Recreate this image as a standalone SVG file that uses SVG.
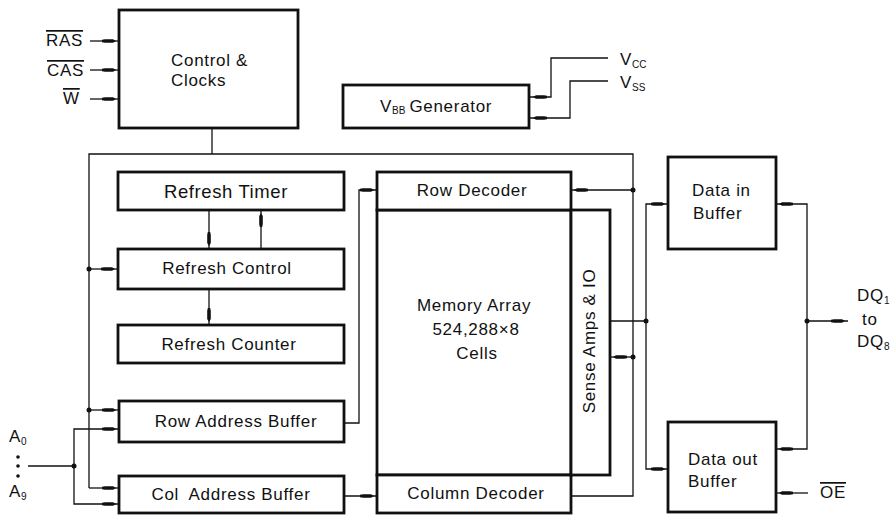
<svg xmlns="http://www.w3.org/2000/svg" width="891" height="515" viewBox="0 0 891 515">
<defs>
<style>
.box{fill:#fff;stroke:#111;stroke-width:2.8}
.ln{fill:none;stroke:#111;stroke-width:1.3}
.dot{fill:#111}
text{font-family:"Liberation Sans",Arial,sans-serif;font-size:17px;fill:#111;letter-spacing:0.7px}
.c{text-anchor:middle}
.sub{font-size:10px;letter-spacing:0}
.ov{text-decoration:overline}
</style>
<marker id="ar" viewBox="0 -3 18 6" refX="17" refY="0" markerWidth="18" markerHeight="6" markerUnits="userSpaceOnUse" orient="auto">
<path d="M0,-1.2 L3,-1.8 L11,-1.8 L14,0 L11,1.8 L3,1.8 L0,1.2 z" fill="#111"/>
</marker>
</defs>
<rect width="891" height="515" fill="#fff"/>

<g id="connectors">
<path class="ln" d="M90,41 H119" marker-end="url(#ar)"/>
<path class="ln" d="M90,70 H119" marker-end="url(#ar)"/>
<path class="ln" d="M90,99 H119" marker-end="url(#ar)"/>
<path class="ln" d="M212,128 V154"/>
<path class="ln" d="M608,58 H551 V97 H530" marker-end="url(#ar)"/>
<path class="ln" d="M608,81 H570 V118 H530" marker-end="url(#ar)"/>
<path class="ln" d="M89,488 V154 H633 V496 H571"/>
<path class="ln" d="M89,488 H119" marker-end="url(#ar)"/>
<path class="ln" d="M89,269 H118" marker-end="url(#ar)"/>
<path class="ln" d="M89,410 H119" marker-end="url(#ar)"/>
<path class="ln" d="M209,210 V249" marker-end="url(#ar)"/>
<path class="ln" d="M261,249 V210" marker-end="url(#ar)"/>
<path class="ln" d="M209,289 V325" marker-end="url(#ar)"/>
<path class="ln" d="M28,466 H74"/>
<path class="ln" d="M74,466 V429 H119" marker-end="url(#ar)"/>
<path class="ln" d="M74,466 V504 H119" marker-end="url(#ar)"/>
<path class="ln" d="M344,423 H359 V190 H377" marker-end="url(#ar)"/>
<path class="ln" d="M344,496 H377" marker-end="url(#ar)"/>
<path class="ln" d="M633,190 H571" marker-end="url(#ar)"/>
<path class="ln" d="M633,357 H610" marker-end="url(#ar)"/>
<path class="ln" d="M610,321 H646"/>
<path class="ln" d="M646,321 V204 H668" marker-end="url(#ar)"/>
<path class="ln" d="M646,321 V469 H668" marker-end="url(#ar)"/>
<path class="ln" d="M807,321 V204 H776" marker-end="url(#ar)"/>
<path class="ln" d="M807,321 V449 H776" marker-end="url(#ar)"/>
<path class="ln" d="M807,321 H848" marker-end="url(#ar)"/>
<path class="ln" d="M808,493 H776" marker-end="url(#ar)"/>
<circle class="dot" cx="89" cy="269" r="2.5"/>
<circle class="dot" cx="89" cy="410" r="2.5"/>
<circle class="dot" cx="74" cy="466" r="2.5"/>
<circle class="dot" cx="633" cy="190" r="2.5"/>
<circle class="dot" cx="633" cy="357" r="2.5"/>
<circle class="dot" cx="646" cy="321" r="2.5"/>
<circle class="dot" cx="807" cy="321" r="2.5"/>
</g>

<g id="inputs">
<text x="46" y="46" class="ov">RAS</text>
<text x="47" y="76" class="ov">CAS</text>
<text x="63" y="104" class="ov">W</text>
<text x="620" y="65">V<tspan class="sub" dy="3">CC</tspan></text>
<text x="620" y="88">V<tspan class="sub" dy="3">SS</tspan></text>
<text x="9" y="442">A<tspan class="sub" dy="3">0</tspan></text>
<circle class="dot" cx="18" cy="457" r="1.8"/>
<circle class="dot" cx="18" cy="466" r="1.8"/>
<circle class="dot" cx="18" cy="476" r="1.8"/>
<text x="9" y="497">A<tspan class="sub" dy="3">9</tspan></text>
<text x="857" y="301">DQ<tspan class="sub" dy="3">1</tspan></text>
<text x="862" y="325">to</text>
<text x="857" y="347">DQ<tspan class="sub" dy="3">8</tspan></text>
<text x="820" y="498" class="ov">OE</text>
</g>

<g id="control-clocks">
<rect class="box" x="119" y="10" width="179" height="118"/>
<text x="171" y="66">Control &amp;</text>
<text x="171" y="86">Clocks</text>
</g>

<g id="vbb-generator">
<rect class="box" x="343" y="85" width="186" height="43"/>
<text x="380" y="112">V<tspan class="sub" dy="2">BB</tspan><tspan dy="-2" dx="4">Generator</tspan></text>
</g>

<g id="refresh-timer">
<rect class="box" x="118" y="172" width="226" height="38"/>
<text x="226" y="198" class="c" style="font-size:18.5px;letter-spacing:0.6px">Refresh Timer</text>
</g>

<g id="refresh-control">
<rect class="box" x="118" y="249" width="226" height="40"/>
<text x="227" y="274" class="c">Refresh Control</text>
</g>

<g id="refresh-counter">
<rect class="box" x="118" y="325" width="226" height="38"/>
<text x="229" y="350" class="c">Refresh Counter</text>
</g>

<g id="row-address-buffer">
<rect class="box" x="119" y="401" width="225" height="41"/>
<text x="236" y="427" class="c">Row Address Buffer</text>
</g>

<g id="col-address-buffer">
<rect class="box" x="119" y="476" width="225" height="37"/>
<text x="231" y="500" class="c">Col <tspan dx="5">Address Buffer</tspan></text>
</g>

<g id="memory-array">
<rect class="box" x="377" y="210" width="194" height="265"/>
<text x="474" y="311" class="c">Memory Array</text>
<text x="476" y="335" class="c">524,288×8</text>
<text x="477" y="359" class="c">Cells</text>
</g>

<g id="row-decoder">
<rect class="box" x="377" y="172" width="194" height="38"/>
<text x="472" y="196" class="c">Row Decoder</text>
</g>

<g id="column-decoder">
<rect class="box" x="377" y="475" width="194" height="38"/>
<text x="476" y="499" class="c">Column Decoder</text>
</g>

<g id="sense-amps">
<rect class="box" x="571" y="210" width="39" height="265"/>
<text x="595" y="341" class="c" transform="rotate(-90 595 341)">Sense Amps &amp; IO</text>
</g>

<g id="data-in-buffer">
<rect class="box" x="668" y="157" width="108" height="92"/>
<text x="692" y="196">Data in</text>
<text x="693" y="219">Buffer</text>
</g>

<g id="data-out-buffer">
<rect class="box" x="668" y="422" width="108" height="90"/>
<text x="688" y="465">Data out</text>
<text x="688" y="487">Buffer</text>
</g>
</svg>
